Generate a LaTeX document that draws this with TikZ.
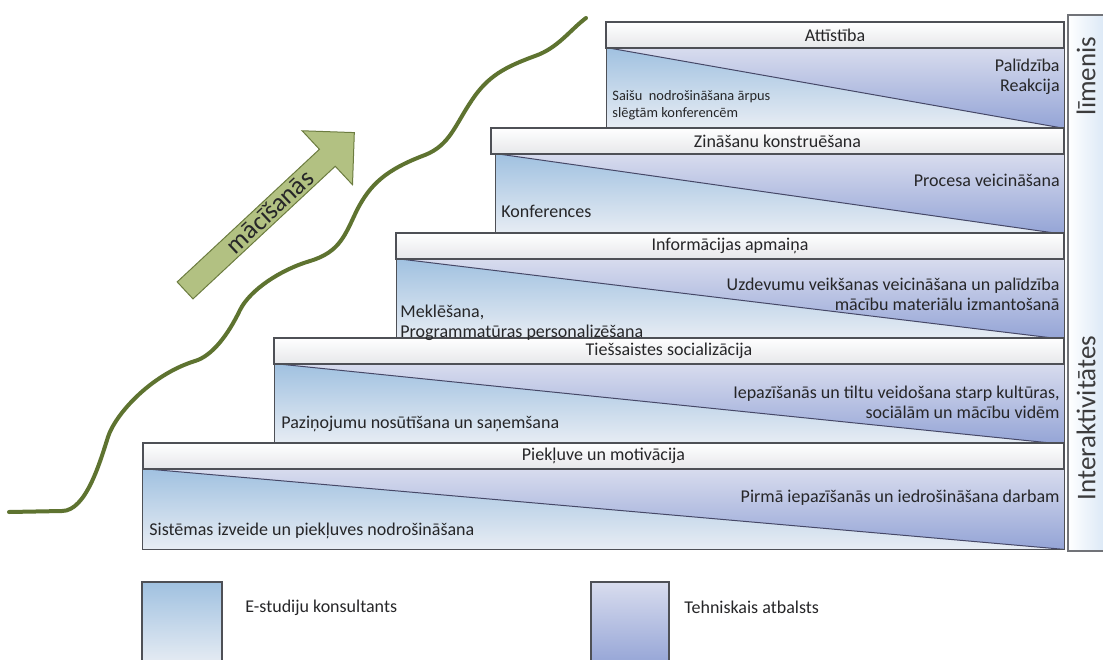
\documentclass[tikz,border=0pt]{standalone}
\usepackage{fontspec}
\setmainfont{Carlito}
\usetikzlibrary{fit,positioning,calc}
\definecolor{konsTop}{RGB}{160,193,224}
\definecolor{konsBot}{RGB}{232,237,244}
\definecolor{tehnTop}{RGB}{216,220,238}
\definecolor{tehnBot}{RGB}{148,164,214}
\definecolor{hdrBot}{RGB}{230,231,234}
\definecolor{rimGrey}{RGB}{78,80,86}
\definecolor{txtGrey}{RGB}{38,38,40}
\definecolor{waveGreen}{RGB}{94,115,48}
\definecolor{arrowFill}{RGB}{178,193,130}
\definecolor{arrowEdge}{RGB}{108,124,64}
\definecolor{colTint}{RGB}{214,229,245}
\tikzset{
  rim/.style={draw=rimGrey, line width=0.6pt},
  diag/.style={draw=rimGrey!90!blue, line width=0.5pt},
  konsult/.style={top color=konsTop, bottom color=konsBot},
  tehnisk/.style={top color=tehnTop, bottom color=tehnBot},
  bodyfit/.style={inner sep=0pt},
  hdrbox/.style={rim, top color=white, bottom color=hdrBot, inner sep=0pt},
  hdrtxt/.style={inner sep=0pt, font=\fontsize{9}{10}\selectfont, text=txtGrey},
  righttxt/.style={anchor=north east, align=right, inner sep=0pt,
    font=\fontsize{9}{9.75}\selectfont, text=txtGrey},
  lefttxt/.style={anchor=south west, align=left, inner sep=0pt, text depth=2.3pt,
    font=\fontsize{9}{9.75}\selectfont, text=txtGrey},
  smalltxt/.style={lefttxt, text depth=1.8pt, font=\fontsize{7.2}{8.5}\selectfont},
  legbox/.style={rim, inner sep=0pt},
  legtxt/.style={anchor=west, inner sep=0pt, font=\fontsize{9}{10}\selectfont, text=txtGrey},
  colbox/.style={draw=rimGrey!80, line width=0.6pt, left color=white, right color=colTint, inner sep=0pt},
  coltxt/.style={rotate=90, inner sep=0pt, font=\fontsize{13.5}{15}\selectfont, text=txtGrey!90},
  wave/.style={draw=waveGreen, line width=2pt, line cap=round},
  learnarrow/.style={fill=arrowFill, draw=arrowEdge, line width=0.5pt, line join=miter},
  arrowtxt/.style={transform shape, inner sep=0pt, font=\fontsize{13}{14}\selectfont, text=txtGrey}
}
\begin{document}
\begin{tikzpicture}[x=0.5pt, y=-0.5pt]
  \useasboundingbox (0,0) rectangle (1103,659);

  % kapnes
  \foreach \id/\hx/\bx/\ty/\title in {5/606/607/22/{Attīstība},
      4/491/496/128/{Zināšanu konstruēšana},
      3/396/397/233/{Informācijas apmaiņa},
      2/274/275/338/{Tiešsaistes socializācija},
      1/143/143/443/{Piekļuve un motivācija}}{
    \node[bodyfit, fit={(\bx,\ty+26) (1064,\ty+106)}] (b\id) {};
    \shade[konsult] (b\id.north west) -- (b\id.south west) -- (b\id.south east) -- cycle;
    \shade[tehnisk] (b\id.north west) -- (b\id.north east) -- (b\id.south east) -- cycle;
    \draw[diag] (b\id.north west) -- (b\id.south east);
    \draw[rim] (b\id.north west) rectangle (b\id.south east);
    \node[hdrbox, fit={(\hx,\ty) (1064,\ty+26)}] (h\id) {};
    \node[hdrtxt] (t\id) at (h\id.center) {\title};
  }

  % teksti
  \node[righttxt] (r5) at (1060,59) {Palīdzība\\Reakcija};
  \node[righttxt] (r4) at (1060,174) {Procesa veicināšana};
  \node[righttxt] (r3) at (1060,278) {Uzdevumu veikšanas veicināšana un palīdzība\\mācību materiālu izmantošanā};
  \node[righttxt] (r2) at (1060,386) {Iepazīšanās un tiltu veidošana starp kultūras,\\sociālām un mācību vidēm};
  \node[righttxt] (r1) at (1060,490) {Pirmā iepazīšanās un iedrošināšana darbam};

  \node[smalltxt] (l5) at (612,121) {Saišu\ \ nodrošināšana ārpus\\slēgtām konferencēm};
  \node[lefttxt] (l4) at (501,222) {Konferences};
  \node[lefttxt] (l3) at (400,342) {Meklēšana,\\Programmatūras personalizēšana};
  \node[lefttxt] (l2) at (281,433) {Paziņojumu nosūtīšana un saņemšana};
  \node[lefttxt] (l1) at (149,540) {Sistēmas izveide un piekļuves nodrošināšana};

  % kolonna
  \node[colbox, fit={(1068,15) (1110,551)}] (kol) {};
  \node[coltxt] (kolA) at (1086,418) {Interaktivitātes};
  \node[coltxt] (kolB) at (1086,76) {līmenis};

  % legenda
  \node[legbox, konsult, fit={(142,582) (222,666)}] (lk) {};
  \node[legtxt] (lkt) at (245,608) {E-studiju konsultants};
  \node[legbox, tehnisk, fit={(591,582) (669,666)}] (lt) {};
  \node[legtxt] (ltt) at (684,607) {Tehniskais atbalsts};

  % vilnis
  \draw[wave] (9,512) -- (62,511) .. controls (86,511) and (100,462) .. (108,437)
    .. controls (115,415) and (150,375) .. (195,361)
    .. controls (212,356) and (228,335) .. (240,310)
    .. controls (250,290) and (280,270) .. (310,261)
    .. controls (340,252) and (345,235) .. (357,210)
    .. controls (370,185) and (385,170) .. (425,155)
    .. controls (450,145) and (455,125) .. (472,100)
    .. controls (488,76) and (505,67) .. (535,56)
    .. controls (558,48) and (570,30) .. (586,18);

  % bulta
  \begin{scope}[shift={(269.7,211.5)}, rotate=43]
    \filldraw[learnarrow] (-115.7,-11.6) -- (78.8,-11.6) -- (78.8,-36.9) -- (115.7,0)
      -- (78.8,36.9) -- (78.8,11.6) -- (-115.7,11.6) -- cycle;
    \node[arrowtxt] (macisanas) at (0,0) {mācīšanās};
  \end{scope}
\end{tikzpicture}
\end{document}
